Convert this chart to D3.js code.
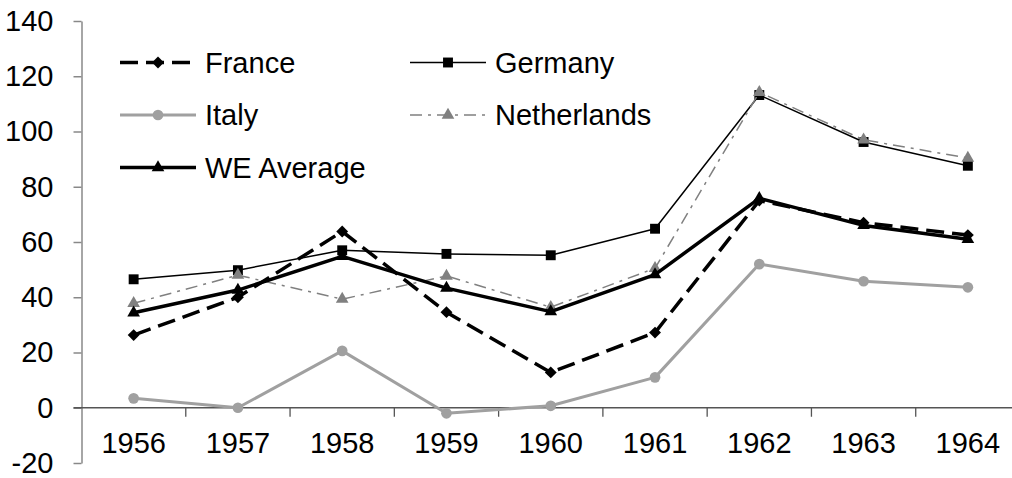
<!DOCTYPE html>
<html>
<head>
<meta charset="utf-8">
<script src="https://cdn.jsdelivr.net/npm/d3@7"></script>
<style>
  body { margin: 0; background: #fff; }
  svg { display: block; font-family: "Liberation Sans", Arial, sans-serif; }
</style>
</head>
<body>
<div class="chart"></div>
<script>
// data
const years = ['1956', '1957', '1958', '1959', '1960', '1961', '1962', '1963', '1964']
const france = [26.3, 40, 63.8, 34.6, 12.8, 27.2, 75, 67, 62.5]
const germany = [46.5, 49.8, 57, 55.7, 55.2, 64.8, 113.2, 96.2, 87.6]
const italy = [3.4, 0, 20.6, -2, 0.7, 11, 52, 45.8, 43.6]
const netherlands = [37.8, 48, 39.3, 47.7, 36.4, 50.5, 114.2, 97, 90.4]
const weAverage = [34.4, 42.6, 54.8, 43.3, 34.8, 48.2, 75.8, 66, 61]
const yTicks = [-20, 0, 20, 40, 60, 80, 100, 120, 140]

const series = [
  { name: 'France', values: france, color: '#000', width: 3.5, dash: '18,8', marker: 'diamond', mcolor: '#000', lx: 120, ly: 62.5 },
  { name: 'Germany', values: germany, color: '#000', width: 1.5, dash: null, marker: 'square', mcolor: '#000', lx: 410, ly: 62.5 },
  { name: 'Italy', values: italy, color: '#a0a0a0', width: 3, dash: null, marker: 'circle', mcolor: '#a0a0a0', lx: 120, ly: 115 },
  { name: 'Netherlands', values: netherlands, color: '#808080', width: 1.5, dash: '12,6,3,6', marker: 'triangle', mcolor: '#808080', lx: 410, ly: 115 },
  { name: 'WE Average', values: weAverage, color: '#000', width: 3.5, dash: null, marker: 'triangle', mcolor: '#000', lx: 120, ly: 167.5 }
]

const width = 1012
const height = 478
const left = 81.5
const right = 1020

const svg = d3.select(".chart")
  .append("svg")
    .attr("width", width)
    .attr("height", height)

const x = d3.scaleBand().domain(years).range([left, right])
const y = d3.scaleLinear().domain([-20, 140]).range([463, 21])
const cx = d => x(d) + x.bandwidth() / 2

// y axis
const yAxis = svg.append("g")
  .attr("transform", `translate(${left},0)`)
  .call(d3.axisLeft(y).tickValues(yTicks).tickFormat(d => String(d))
    .tickSize(8).tickSizeOuter(0).tickPadding(20))
yAxis.select(".domain").attr("stroke", "#888").attr("stroke-width", 1.5)
yAxis.selectAll(".tick line").attr("stroke", "#888").attr("stroke-width", 1.5)
yAxis.selectAll(".tick text").attr("font-size", 29).attr("fill", "#000")
  .attr("font-family", "Liberation Sans, Arial, sans-serif")

// x axis along zero
const y0 = y(0)
svg.append("line")
  .attr("x1", left - 8).attr("x2", right)
  .attr("y1", y0).attr("y2", y0)
  .attr("stroke", "#555").attr("stroke-width", 1.3)
svg.selectAll(".xtick")
  .data(years.slice(1))
  .join("line")
    .attr("class", "xtick")
    .attr("x1", d => x(d)).attr("x2", d => x(d))
    .attr("y1", y0).attr("y2", y0 + 9)
    .attr("stroke", "#555").attr("stroke-width", 1.3)
svg.selectAll(".xlabel")
  .data(years)
  .join("text")
    .attr("class", "xlabel")
    .attr("x", d => cx(d))
    .attr("y", y0 + 45)
    .attr("text-anchor", "middle")
    .attr("font-size", 29)
    .text(d => d)

function markerPath(type) {
  if (type === 'diamond') return d3.symbol(d3.symbolDiamond2, 90)()
  if (type === 'square') return d3.symbol(d3.symbolSquare2, 125)()
  if (type === 'triangle') return d3.symbol(d3.symbolTriangle2, 115)()
  return d3.symbol(d3.symbolCircle, 90)()
}

const line = d3.line()
  .x((d, i) => cx(years[i]))
  .y(d => y(d))

series.forEach(s => {
  const g = svg.append("g")
  g.append("path")
    .datum(s.values)
    .attr("d", line)
    .attr("fill", "none")
    .attr("stroke", s.color)
    .attr("stroke-width", s.width)
    .attr("stroke-dasharray", s.dash)
    .attr("stroke-linejoin", "round")
  g.selectAll("path.m")
    .data(s.values)
    .join("path")
      .attr("class", "m")
      .attr("d", markerPath(s.marker))
      .attr("transform", (d, i) => `translate(${cx(years[i])},${y(d)})`)
      .attr("fill", s.mcolor)

  // legend entry
  const lg = svg.append("g")
  lg.append("line")
    .attr("x1", s.lx).attr("x2", s.lx + 76)
    .attr("y1", s.ly).attr("y2", s.ly)
    .attr("stroke", s.color)
    .attr("stroke-width", s.width)
    .attr("stroke-dasharray", s.dash)
  lg.append("path")
    .attr("d", markerPath(s.marker))
    .attr("transform", `translate(${s.lx + 38},${s.ly})`)
    .attr("fill", s.mcolor)
  lg.append("text")
    .attr("x", s.lx + 85)
    .attr("y", s.ly + 10)
    .attr("font-size", 29)
    .text(s.name)
})
</script>
</body>
</html>
